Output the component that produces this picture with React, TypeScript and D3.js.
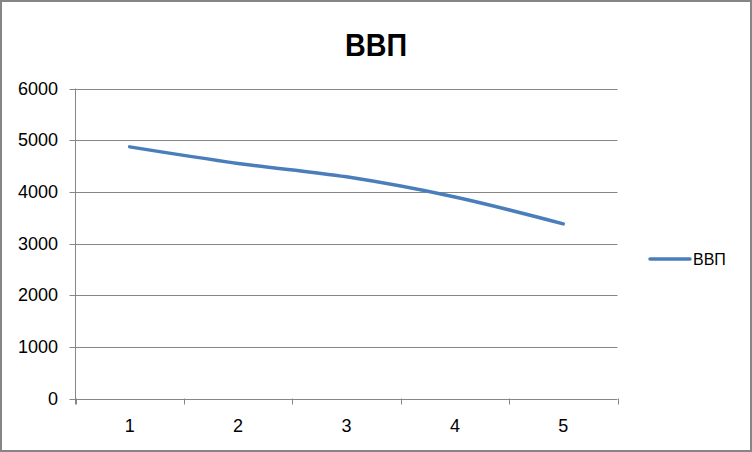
import React from "react";
import * as d3 from "d3";

const categories: string[] = ["1", "2", "3", "4", "5"];
const gdpValues: number[] = [4870, 4550, 4290, 3900, 3380];
const yTicks: number[] = [0, 1000, 2000, 3000, 4000, 5000, 6000];
const seriesName = "ВВП";
const titleText = "ВВП";

const W = 752;
const H = 452;
const FONT = "'Liberation Sans', Arial, sans-serif";
const GRID = "#868686";
const LINE = "#4A7EBB";

export default function App() {
  const left = 75.5;
  const right = 617.5;
  const top = 88.5;
  const bottom = 398.5;

  const x = d3.scaleBand<string>().domain(categories).range([left, right]);
  const y = d3.scaleLinear().domain([0, 6000]).range([bottom, top]);

  const line = d3
    .line<number>()
    .x((_, i) => (x(categories[i]) as number) + x.bandwidth() / 2)
    .y((d) => y(d))
    .curve(d3.curveCatmullRom.alpha(0.5));

  const tickXs = [...categories.map((c) => x(c) as number), right];

  return (
    <svg
      width={W}
      height={H}
      style={{ position: "absolute", left: 0, top: 0, background: "#fff" }}
    >
      <rect x={0} y={0} width={W} height={H} fill="#fff" />
      <rect x={1} y={1} width={W - 2} height={H - 2} fill="none" stroke={GRID} strokeWidth={2} />

      <text
        x={376}
        y={56}
        textAnchor="middle"
        fontFamily={FONT}
        fontWeight="bold"
        fontSize={31}
        fill="#000"
        textLength={62}
        lengthAdjust="spacingAndGlyphs"
      >
        {titleText}
      </text>

      {yTicks.map((t) => (
        <g key={t}>
          <line x1={left - 6} x2={right} y1={Math.round(y(t)) + 0.5} y2={Math.round(y(t)) + 0.5} stroke={GRID} strokeWidth={1} />
          <text
            x={58}
            y={y(t) + 6}
            textAnchor="end"
            fontFamily={FONT}
            fontSize={18}
            fill="#000"
          >
            {t}
          </text>
        </g>
      ))}

      <line x1={left} x2={left} y1={top} y2={bottom + 6} stroke={GRID} strokeWidth={1} />
      {tickXs.map((tx, i) => (
        <line key={i} x1={Math.round(tx) + 0.5} x2={Math.round(tx) + 0.5} y1={bottom} y2={bottom + 6} stroke={GRID} strokeWidth={1} />
      ))}

      {categories.map((c) => (
        <text
          key={c}
          x={(x(c) as number) + x.bandwidth() / 2}
          y={432}
          textAnchor="middle"
          fontFamily={FONT}
          fontSize={18}
          fill="#000"
        >
          {c}
        </text>
      ))}

      <path d={line(gdpValues) || ""} fill="none" stroke={LINE} strokeWidth={3.5} strokeLinecap="round" />

      <line x1={650} x2={690} y1={259} y2={259} stroke={LINE} strokeWidth={3.5} strokeLinecap="round" />
      <text x={693} y={265} fontFamily={FONT} fontSize={16} fill="#000">
        {seriesName}
      </text>
    </svg>
  );
}
